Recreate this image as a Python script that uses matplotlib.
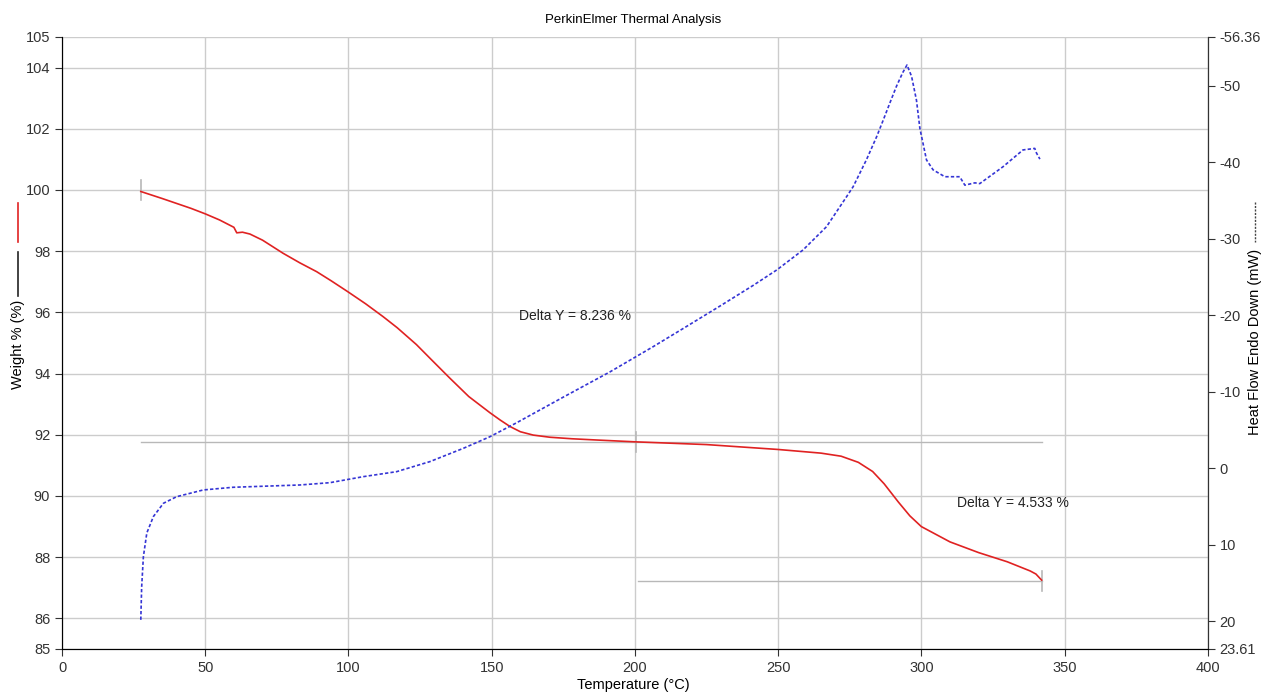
import numpy as np
import matplotlib
matplotlib.use('Agg')
import matplotlib.pyplot as plt
from matplotlib.lines import Line2D

plt.rcParams['font.family'] = ['Liberation Sans', 'DejaVu Sans']

# Weight % vs temperature
temp_w = [27.5, 35, 45, 50, 55, 60, 61, 63, 65.6, 70, 77.2, 83, 88.9, 94, 99.7, 106,
          112.1, 117, 123.7, 129, 135.4, 142, 149.4, 153, 156.4, 160, 164.5, 170.3,
          178, 186.5, 200, 225, 250, 265, 272, 278, 283, 287, 292, 296, 300, 305,
          310, 320, 330, 338, 340, 341, 342]
weight = [99.95, 99.72, 99.4, 99.22, 99.02, 98.78, 98.6, 98.62, 98.56, 98.36, 97.93,
          97.62, 97.33, 97.03, 96.68, 96.28, 95.86, 95.5, 94.95, 94.45, 93.85, 93.25,
          92.72, 92.48, 92.27, 92.1, 91.99, 91.92, 91.87, 91.83, 91.77, 91.68, 91.52,
          91.4, 91.3, 91.1, 90.8, 90.4, 89.8, 89.35, 89.0, 88.75, 88.5, 88.15, 87.85,
          87.55, 87.45, 87.35, 87.25]

# Heat flow (mW) vs temperature
temp_h = [27.5, 27.8, 28.4, 29.6, 31.9, 35.4, 40, 49.3, 59.7, 83, 93.5, 105.2, 116.8,
          128.4, 140.1, 149.4, 158.7, 175, 191.3, 206.4, 218.1, 229.7, 241.3, 249.5,
          258.7, 266.9, 273.9, 276.2, 280.8, 284.4, 286.7, 289.5, 291.3, 293.5, 295.0,
          296.6, 298.3, 299.5, 301.8, 304.1, 308.2, 313.4, 315.2, 318.7, 320.4, 328.5,
          335.5, 339.6, 340.2, 341.4]
heat = [19.8, 15.5, 11.55, 8.45, 6.3, 4.57, 3.71, 2.83, 2.48, 2.18, 1.88, 1.09, 0.44,
        -0.87, -2.61, -4.13, -5.95, -9.3, -12.6, -15.9, -18.55, -21.2, -23.9, -25.91,
        -28.53, -31.57, -35.49, -36.8, -40.29, -43.33, -45.5, -48.2, -49.9, -51.7, -52.7,
        -51.2, -48.1, -44.4, -40.3, -39.0, -38.1, -38.1, -37.0, -37.3, -37.2, -39.4,
        -41.6, -41.8, -41.2, -40.4]

left_ticks = [85, 86, 88, 90, 92, 94, 96, 98, 100, 102, 104, 105]
right_ticks = [-56.36, -50, -40, -30, -20, -10, 0, 10, 20, 23.61]
right_labels = ['-56.36', '-50', '-40', '-30', '-20', '-10', '0', '10', '20', '23.61']

# delta Y steps: (start T, end T, start %, end %)
step1 = (27.5, 200.5, 100.0, 91.764)
step2 = (200.5, 342.0, 91.764, 87.231)

fig = plt.figure(figsize=(12.66, 6.95), dpi=100)
ax = fig.add_axes([0.049, 0.0662, 0.905, 0.8806])
ax2 = ax.twinx()

gray = '#b8b8b8'
ax.set_xlim(0, 400)
ax.set_ylim(85, 105)
ax.set_xticks(range(0, 401, 50))
ax.set_yticks(left_ticks)
ax.grid(True, color='#cccccc', linewidth=1.0)
ax.set_axisbelow(True)
ax.spines['top'].set_visible(False)
ax2.spines['top'].set_visible(False)
for sp in ['left', 'bottom']:
    ax.spines[sp].set_color('#333333')
ax2.spines['right'].set_color('#333333')
ax.tick_params(labelsize=10.5, colors='#333333', length=5)

# delta Y lines
ax.plot([step1[0], step2[1]], [step1[3], step1[3]], color=gray, lw=1)
ax.plot([step2[0] + 0.5, step2[1]], [step2[3], step2[3]], color=gray, lw=1)
for t, w in [(step1[0], step1[2]), (step2[0], step2[2]), (step2[1], step2[3])]:
    ax.plot([t, t], [w - 0.33, w + 0.33], color=gray, lw=1.2)

ax.plot(temp_w, weight, color='#e02222', lw=1.2)
ax.text(159.5, 95.88, 'Delta Y = 8.236 %', fontsize=10, va='center', color='#222222')
ax.text(312.5, 89.77, 'Delta Y = 4.533 %', fontsize=10, va='center', color='#222222')

ax2.plot(temp_h, heat, color='#3535d5', lw=1.2, linestyle=(0, (2, 1.3)))
ax2.set_ylim(23.61, -56.36)
ax2.set_yticks(right_ticks)
ax2.set_yticklabels(right_labels)
ax2.tick_params(labelsize=10.5, colors='#333333', length=5)

fig.text(0.5, 0.971, 'PerkinElmer Thermal Analysis', ha='center', va='center', fontsize=9.5)
fig.text(0.5, 0.014, 'Temperature (°C)', ha='center', va='center', fontsize=10.5)

# left axis label with line keys
fig.text(0.0142, 0.505, 'Weight % (%)', rotation=90, ha='center', va='center', fontsize=10.5)
fig.add_artist(Line2D([0.0142, 0.0142], [1 - 203 / 695, 1 - 242 / 695], color='#e02222', lw=1.2))
fig.add_artist(Line2D([0.0142, 0.0142], [1 - 252 / 695, 1 - 296 / 695], color='#222222', lw=1.2))

# right axis label with dashed key
fig.text(0.9915, 0.508, 'Heat Flow Endo Down (mW)', rotation=90, ha='center', va='center', fontsize=10.5)
fig.add_artist(Line2D([0.9915, 0.9915], [1 - 202 / 695, 1 - 242 / 695], color='#444444', lw=1,
                      linestyle=(0, (1.5, 1))))

fig.savefig('out.png', dpi=100)
